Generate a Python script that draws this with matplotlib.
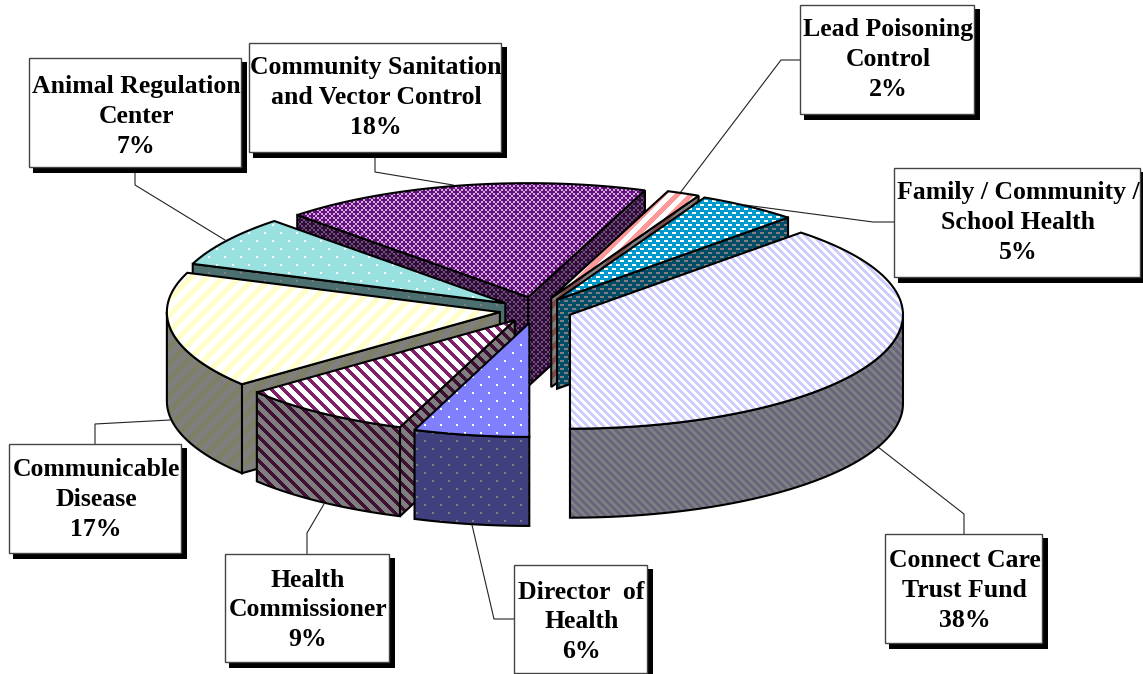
import numpy as np
import matplotlib
matplotlib.use('Agg')
import matplotlib.pyplot as plt
from matplotlib.patches import Polygon, Rectangle

W, H = 1143, 674

# clockwise from the back edge of the big slice
names = ['Connect Care\nTrust Fund\n38%', 'Director  of\nHealth\n6%', 'Health\nCommissioner\n9%',
         'Communicable\nDisease\n17%', 'Animal Regulation\nCenter\n7%',
         'Community Sanitation\nand Vector Control\n18%', 'Lead Poisoning\nControl\n2%',
         'Family / Community /\nSchool Health\n5%']
shares = [37.8, 5.6, 8.5, 16.5, 7.2, 17.9, 1.6, 4.9]
explode = [0.11, 0.115, 0.11, 0.11, 0.11, 0.115, 0.115, 0.11]
base_cols = [(255, 255, 255), (128, 128, 255), (255, 255, 255), (255, 255, 255),
             (153, 224, 224), (102, 16, 128), (255, 255, 255), (0, 153, 204)]
ink_cols = [(204, 204, 255), (255, 255, 255), (128, 32, 104), (255, 255, 204),
            (255, 255, 255), (205, 170, 215), (255, 153, 153), (255, 255, 255)]
fills = ['down8', 'dots', 'down12', 'up16', 'dots', 'weave', 'up14', 'small']

# label boxes: left, top, right, bottom
boxes = [(885, 534, 1042, 643), (514, 565, 647, 673), (225, 554, 389, 662), (9, 444, 181, 553),
         (29, 58, 241, 167), (249, 43, 501, 152), (800, 5, 974, 114), (894, 168, 1140, 277)]
text_dy = [2, 3, 2, 1, 4, 0, 0, 0]
leaders = [[(964, 534), (964, 514), (878, 447)],
           [(514, 619), (494, 619), (472, 525)],
           [(307, 554), (307, 533), (324, 504)],
           [(95, 444), (95, 424), (170, 420)],
           [(135, 167), (135, 185), (225, 240)],
           [(375, 152), (375, 172), (453, 185)],
           [(800, 60), (781, 60), (680, 193)],
           [(894, 222), (873, 222), (745, 205)]]

cx, cy = 536, 310
rx, ry = 333, 114
depth = 89

yy, xx = np.mgrid[0:H, 0:W]


def cross(o):
    u = (xx + o) % 8
    v = (yy + o) % 8
    return ((u >= 3) & (u < 5) & (v >= 1) & (v < 7)) | ((v >= 3) & (v < 5) & (u >= 1) & (u < 7))


def pattern(kind):
    if kind == 'down8':
        return (xx - yy) % 8 < 4
    if kind == 'down12':
        return (xx - yy) % 12 < 5
    if kind.startswith('up'):
        p = int(kind[2:])
        return (xx + yy) % p < p * 0.5
    if kind == 'dots':
        return ((xx % 16 < 2) & (yy % 16 < 2)) | (((xx + 8) % 16 < 2) & ((yy + 8) % 16 < 2))
    if kind == 'small':
        return ((xx % 8 < 4) & (yy % 8 < 2)) | (((xx + 4) % 8 < 4) & ((yy + 4) % 8 < 2))
    return ~(cross(0) | cross(4))


fig = plt.figure(figsize=(W / 100, H / 100), dpi=100)
ax = fig.add_axes([0, 0, 1, 1])
z = [10]


def face(pts, base, ink, kind, shade=1.0):
    mask = pattern(kind)
    img = np.zeros((H, W, 3))
    img[~mask] = np.array(base) / 255 * shade
    img[mask] = np.array(ink) / 255 * shade
    outline = Polygon(pts, closed=True, fc='none', ec='black', lw=1.5, joinstyle='miter', zorder=z[0] + 1)
    ax.add_patch(outline)
    im = ax.imshow(img, extent=(0, W, H, 0), origin='upper', interpolation='nearest', aspect='auto', zorder=z[0])
    im.set_clip_path(outline)
    z[0] += 2


def extrude(p):
    return [(x, y + depth) for x, y in p[::-1]]


def rim(a, e, t0, t1):
    t = np.radians(np.linspace(t0, t1, 80))
    b = np.radians(a)
    return list(zip(cx + rx * (e * np.sin(b) + np.sin(t)), cy - ry * (e * np.cos(b) + np.cos(t))))


vals = np.array(shares) / sum(shares) * 360
edges = 180 - vals[0] + np.concatenate([[0], np.cumsum(vals)])

for pts in leaders:
    ax.plot([p[0] for p in pts], [p[1] for p in pts], color='#222222', lw=0.8, zorder=2)

mids = (edges[:-1] + edges[1:]) / 2
order = np.argsort(-np.cos(np.radians(mids)))
for i in order:
    t0, t1, mid, e = edges[i], edges[i + 1], mids[i], explode[i]
    apex = (cx + rx * e * np.sin(np.radians(mid)), cy - ry * e * np.cos(np.radians(mid)))
    outer = rim(mid, e, t0, t1)
    if np.sin(np.radians(t0)) < -1e-6:
        face([apex, outer[0]] + extrude([apex, outer[0]]), base_cols[i], ink_cols[i], fills[i], 0.5)
    if np.sin(np.radians(t1)) > 1e-6:
        face([apex, outer[-1]] + extrude([apex, outer[-1]]), base_cols[i], ink_cols[i], fills[i], 0.5)
    lo, hi = max(t0, 90), min(t1, 270)
    if hi > lo:
        wall = rim(mid, e, lo, hi)
        face(wall + extrude(wall), base_cols[i], ink_cols[i], fills[i], 0.5)
    face([apex] + outer, base_cols[i], ink_cols[i], fills[i])

for (l, t, r, b), txt, dy in zip(boxes, names, text_dy):
    ax.add_patch(Rectangle((l + 4, t + 4), r - l + 2, b - t + 2, fc='black', ec='none', zorder=200))
    ax.add_patch(Rectangle((l, t), r - l, b - t, fc='white', ec='#444444', lw=1, zorder=201))
    ax.text((l + r) / 2 + 1, (t + b) / 2 + dy, txt, ha='center', va='center', family='Liberation Serif',
            weight='bold', fontsize=18.5, linespacing=1.38, color='black', zorder=202)

ax.set_xlim(0, W)
ax.set_ylim(H, 0)
ax.axis('off')
fig.savefig('out.png', dpi=100)
